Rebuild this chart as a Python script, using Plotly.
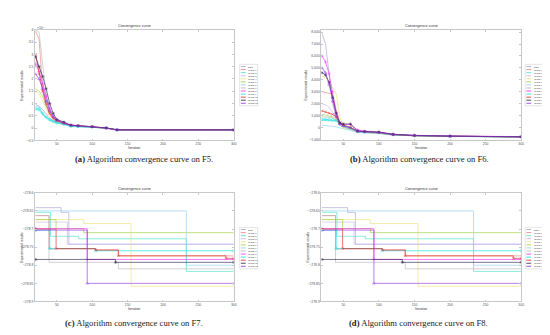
import plotly.graph_objects as go

# ---------------- data ----------------
names = ["Data", "CFSSA1", "CFSSA2", "CFSSA3", "CFSSA4", "CFSSA5", "CFSSA6",
         "CFSSA7", "CFSSA8", "CFSSA9", "CFSSA10", "CFSSA11", "CFSSA12"]
colors = ["#a59bd6", "#f07878", "#40e0c0", "#c8b0f0", "#ece070", "#9acd32", "#87cefa",
          "#b4b4b4", "#ff20ff", "#00dede", "#e0201b", "#202040", "#8a2be2"]
symbols = [None, None, None, None, None, None, None, None,
           "cross-thin-open", "circle-open", "x-thin-open", "asterisk-open", "triangle-up-open"]

captions = ["<b>(a)</b> Algorithm convergence curve on F5.",
            "<b>(b)</b> Algorithm convergence curve on F6.",
            "<b>(c)</b> Algorithm convergence curve on F7.",
            "<b>(d)</b> Algorithm convergence curve on F8."]

# F5 (values in units of 1e4)
iter_a = [20, 25, 30, 35, 40, 45, 50, 60, 70, 80, 100, 120, 135, 300]
f5 = [
    [0.95, 0.9, 0.75, 0.55, 0.4, 0.3, 0.25, 0.18, 0.08, 0.07, 0.05, 0.0, -0.07, -0.07],
    [3.95, 3.6, 1.6, 0.9, 0.55, 0.35, 0.28, 0.2, 0.1, 0.08, 0.05, 0.0, -0.07, -0.07],
    [0.75, 0.72, 0.55, 0.4, 0.3, 0.25, 0.2, 0.15, 0.06, 0.05, 0.04, 0.0, -0.07, -0.07],
    [2.7, 2.5, 1.9, 1.2, 0.7, 0.45, 0.3, 0.2, 0.1, 0.08, 0.05, 0.0, -0.07, -0.07],
    [1.5, 1.4, 1.1, 0.8, 0.5, 0.35, 0.27, 0.18, 0.1, 0.08, 0.05, 0.0, -0.07, -0.07],
    [1.6, 1.5, 1.3, 0.9, 0.6, 0.4, 0.3, 0.2, 0.1, 0.08, 0.05, 0.0, -0.07, -0.07],
    [0.9, 0.85, 0.6, 0.45, 0.35, 0.28, 0.22, 0.16, 0.08, 0.06, 0.04, 0.0, -0.07, -0.07],
    [4.0, 3.9, 2.6, 1.4, 0.8, 0.45, 0.3, 0.2, 0.1, 0.08, 0.05, 0.0, -0.07, -0.07],
    [2.6, 2.3, 1.8, 1.3, 0.8, 0.5, 0.35, 0.22, 0.12, 0.1, 0.06, 0.01, -0.07, -0.07],
    [0.8, 0.78, 0.6, 0.45, 0.35, 0.28, 0.22, 0.16, 0.08, 0.07, 0.05, 0.0, -0.07, -0.07],
    [3.0, 2.2, 1.5, 1.0, 0.6, 0.4, 0.3, 0.2, 0.12, 0.1, 0.06, 0.0, -0.07, -0.07],
    [2.9, 2.5, 2.1, 1.6, 1.0, 0.6, 0.35, 0.25, 0.12, 0.1, 0.06, 0.01, -0.07, -0.07],
    [2.2, 2.0, 1.6, 1.1, 0.7, 0.45, 0.32, 0.2, 0.12, 0.1, 0.06, 0.0, -0.07, -0.07],
]

# F6
iter_b = [20, 25, 30, 35, 40, 45, 50, 60, 70, 80, 100, 120, 150, 200, 300]
f6 = [
    [7900, 7000, 4500, 2000, 800, 300, 100, -100, -350, -400, -450, -600, -680, -730, -780],
    [3000, 2950, 2900, 2800, 1500, 500, 200, 0, -300, -380, -450, -620, -690, -740, -790],
    [600, 600, 580, 560, 540, 400, 100, -50, -300, -350, -420, -600, -680, -730, -780],
    [2000, 1900, 1700, 1300, 800, 300, 100, -100, -350, -400, -460, -610, -690, -740, -790],
    [4300, 4200, 3900, 3300, 2800, 900, 200, 0, -320, -380, -440, -600, -680, -730, -780],
    [1100, 1050, 1000, 900, 700, 200, 0, -150, -380, -420, -470, -620, -690, -740, -790],
    [200, 180, 150, 100, 50, 0, -100, -250, -400, -450, -500, -640, -700, -750, -800],
    [900, 880, 860, 840, 600, 200, 50, -100, -350, -420, -480, -630, -700, -750, -800],
    [6000, 5500, 4500, 3000, 1200, 300, 250, 250, -200, -300, -380, -560, -650, -700, -760],
    [700, 690, 680, 650, 600, 350, 150, -50, -330, -380, -440, -600, -680, -730, -780],
    [1400, 1300, 1200, 1100, 900, 400, 200, 0, -300, -350, -420, -600, -680, -730, -780],
    [4600, 4400, 3800, 2500, 1200, 400, 300, 300, -300, -330, -380, -560, -660, -720, -780],
    [5000, 4600, 3600, 2200, 1000, 300, 150, 0, -320, -360, -400, -580, -670, -720, -770],
]

# F7 / F8 step curves: (iterations where value changes, values)
steps_x = [
    [20, 56, 67, 300],
    [20, 39, 104, 137, 300],
    [20, 41, 81, 233, 300],
    [20, 65, 300],
    [20, 88, 155, 300],
    [20, 49, 88, 300],
    [20, 233, 300],
    [20, 39, 137, 300],
    [20, 93, 300],
    [20, 40, 105, 300],
    [20, 49, 105, 137, 289, 300],
    [20, 133, 300],
    [20, 93, 300],
]
steps_y = [
    [-278.641, -278.654, -278.742, -278.742],
    [-278.663, -278.755, -278.758, -278.774, -278.774],
    [-278.654, -278.72, -278.727, -278.817, -278.817],
    [-278.681, -278.742, -278.742],
    [-278.674, -278.685, -278.858, -278.858],
    [-278.674, -278.699, -278.71, -278.71],
    [-278.65, -278.8, -278.8],
    [-278.663, -278.792, -278.81, -278.81],
    [-278.699, -278.784, -278.784],
    [-278.703, -278.754, -278.76, -278.76],
    [-278.7, -278.754, -278.758, -278.774, -278.781, -278.781],
    [-278.784, -278.792, -278.792],
    [-278.703, -278.85, -278.85],
]
f7_x, f7_y = steps_x, steps_y
f8_x, f8_y = steps_x, steps_y

# ---------------- figure ----------------
W, H = 550, 335
def px(x): return x / W
def py(y): return 1 - y / H

panels = [
    dict(x0=27, x1=227, y0=20, y1=132, legx=233, legy=55),
    dict(x0=315, x1=516, y0=20, y1=132, legx=520, legy=55),
    dict(x0=27, x1=227, y0=185, y1=295, legx=233, legy=220),
    dict(x0=315, x1=516, y0=185, y1=295, legx=520, legy=220),
]
cap_pos = [(137, 151), (414, 151), (127, 317), (413, 317)]

fig = go.Figure()

def add_series(k, xs, ys, shape):
    ax = "" if k == 0 else str(k + 1)
    for i in range(len(names)):
        mk = symbols[i] is not None
        fig.add_trace(go.Scatter(
            x=xs[i] if isinstance(xs[0], list) else xs, y=ys[i],
            mode="lines+markers" if mk else "lines",
            line=dict(color=colors[i], width=0.7, shape=shape),
            marker=dict(symbol=symbols[i] or "circle", size=2.5, color=colors[i],
                        line=dict(width=0.5, color=colors[i])),
            opacity=0.85,
            xaxis="x" + ax, yaxis="y" + ax, showlegend=False, name=names[i]))

add_series(0, iter_a, f5, "linear")
add_series(1, iter_b, f6, "linear")
add_series(2, f7_x, f7_y, "hv")
add_series(3, f8_x, f8_y, "hv")

axis_common = dict(showgrid=False, zeroline=False, showline=True, linecolor="#c8c8c8",
                   linewidth=0.6, mirror="ticks", ticks="inside", ticklen=2,
                   tickcolor="#c8c8c8", tickwidth=0.5,
                   tickfont=dict(size=3.4, color="#555", family="Liberation Sans"))
yranges = [dict(range=[-0.5, 4], dtick=0.5, tick0=0),
           dict(range=[-1080, 8200], dtick=1000, tick0=0, tickformat=","),
           dict(range=[-278.9, -278.6], dtick=0.05, tick0=-278.6),
           dict(range=[-278.9, -278.6], dtick=0.05, tick0=-278.6)]

lay = dict(width=W, height=H, margin=dict(l=0, r=0, t=0, b=0),
           plot_bgcolor="white", paper_bgcolor="white", showlegend=False)
shapes, annotations = [], []

def note(text, x, y, size, xanchor="center", yanchor="middle", color="#333",
         family="Liberation Sans", angle=0):
    annotations.append(dict(text=text, x=px(x), y=py(y), xref="paper", yref="paper",
                            xanchor=xanchor, yanchor=yanchor, showarrow=False,
                            textangle=angle,
                            font=dict(size=size, color=color, family=family)))

for k, p in enumerate(panels):
    ax = "" if k == 0 else str(k + 1)
    lay["xaxis" + ax] = dict(axis_common, domain=[px(p["x0"]), px(p["x1"])],
                             anchor="y" + ax, range=[19, 300], dtick=50, tick0=0)
    lay["yaxis" + ax] = dict(axis_common, domain=[py(p["y1"]), py(p["y0"])],
                             anchor="x" + ax, **yranges[k])
    cx = (p["x0"] + p["x1"]) / 2
    note("Convergence curve", cx, p["y0"] - 4, 3.8)
    note("Iteration", cx, p["y1"] + 7.5, 3.4)
    note("Experimental results", p["x0"] - 13 if k != 1 else p["x0"] - 15,
         (p["y0"] + p["y1"]) / 2, 3.4, angle=-90)
    # legend box
    lx, ly = p["legx"], p["legy"]
    shapes.append(dict(type="rect", xref="paper", yref="paper", x0=px(lx), x1=px(lx + 18),
                       y0=py(ly + 42), y1=py(ly), fillcolor="white",
                       line=dict(color="#c8c8c8", width=0.5)))
    for i, n in enumerate(names):
        yy = ly + 2.2 + i * 3.1
        shapes.append(dict(type="line", xref="paper", yref="paper", x0=px(lx + 1.2),
                           x1=px(lx + 6), y0=py(yy), y1=py(yy),
                           line=dict(color=colors[i], width=0.8)))
        note(n, lx + 6.8, yy, 2.2, xanchor="left", color="#444")
    tx, ty = cap_pos[k]
    note(captions[k], tx, ty, 8.6, color="#222", family="Liberation Serif")

note("×10<sup>4</sup>", 27, 18, 3.4, xanchor="left", color="#555")
lay["shapes"] = shapes
lay["annotations"] = annotations
fig.update_layout(**lay)
fig.write_html("out.html")
